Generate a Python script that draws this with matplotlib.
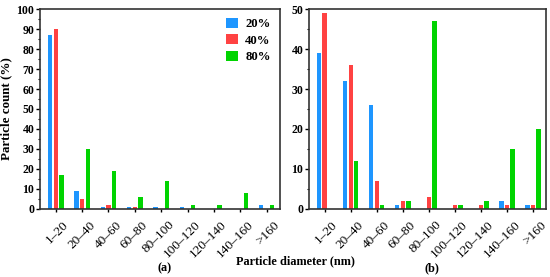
import numpy as np
import matplotlib.pyplot as plt
from matplotlib.ticker import MultipleLocator

plt.rcParams['font.family'] = ['Liberation Serif', 'DejaVu Serif']

categories = ['1–20', '20–40', '40–60', '60–80', '80–100',
              '100–120', '120–140', '140–160', '>160']
series = ['20%', '40%', '80%']
colors = ['#1E96FF', '#FF4242', '#00D400']

# panel (a)
a_20 = [87, 9, 1, 1, 1, 1, 0, 0, 2]
a_40 = [90, 5, 2, 1, 0, 0, 0, 0, 0]
a_80 = [17, 30, 19, 6, 14, 2, 2, 8, 2]

# panel (b)
b_20 = [39, 32, 26, 1, 0, 0, 0, 2, 1]
b_40 = [49, 36, 7, 2, 3, 1, 1, 1, 1]
b_80 = [0, 12, 1, 2, 47, 1, 2, 15, 20]

fig = plt.figure(figsize=(5.5, 2.77), dpi=100)
ax1 = fig.add_axes([0.0727, 0.2455, 0.436, 0.722])
ax2 = fig.add_axes([0.5618, 0.2455, 0.431, 0.722])

x = np.arange(len(categories))
w = 0.165
off = 0.215


def draw(ax, data, ymax):
    for i, (vals, c, lab) in enumerate(zip(data, colors, series)):
        ax.bar(x + (i - 1) * off, vals, width=w, color=c, label=lab)
    ax.set_xlim(-0.6, 8.5)
    ax.set_ylim(0, ymax)
    ax.yaxis.set_major_locator(MultipleLocator(10))
    ax.yaxis.set_minor_locator(MultipleLocator(5))
    ax.set_xticks(x)
    ax.set_xticklabels([])
    # rotated category labels, a bit right of each tick
    for xi, cat in zip(x, categories):
        ax.annotate(cat, xy=(xi, 0), xycoords=('data', 'axes fraction'),
                    xytext=(5, -7), textcoords='offset points',
                    rotation=45, ha='right', va='top',
                    rotation_mode='anchor', fontsize=9.5)
    for lab in ax.get_yticklabels():
        lab.set_fontweight('bold')
    ax.tick_params(axis='y', labelsize=8.5, length=3, width=1, pad=1)
    ax.tick_params(axis='y', which='minor', length=1.5, width=0.8)
    ax.tick_params(axis='x', length=2.5, width=1)
    for s in ax.spines.values():
        s.set_linewidth(1.2)
        s.set_color('#333333')


draw(ax1, [a_20, a_40, a_80], 100)
draw(ax2, [b_20, b_40, b_80], 50)

ax1.set_ylabel('Particle count (%)', fontsize=9.4, fontweight='bold', labelpad=3)
ax1.legend(loc='upper right', frameon=False,
           prop={'size': 9.2, 'weight': 'bold'},
           handlelength=0.9, handleheight=0.85, handletextpad=0.6,
           labelspacing=0.3, borderaxespad=0.3)

fig.text(295 / 550, 1 - 261 / 277, 'Particle diameter (nm)', ha='center',
         va='center', fontsize=8.8, fontweight='bold')
fig.text(165 / 550, 1 - 268 / 277, '(a)', ha='center', va='center',
         fontsize=8.8, fontweight='bold')
fig.text(432 / 550, 1 - 268 / 277, '(b)', ha='center', va='center',
         fontsize=8.8, fontweight='bold')

fig.savefig('out.png', dpi=100)
